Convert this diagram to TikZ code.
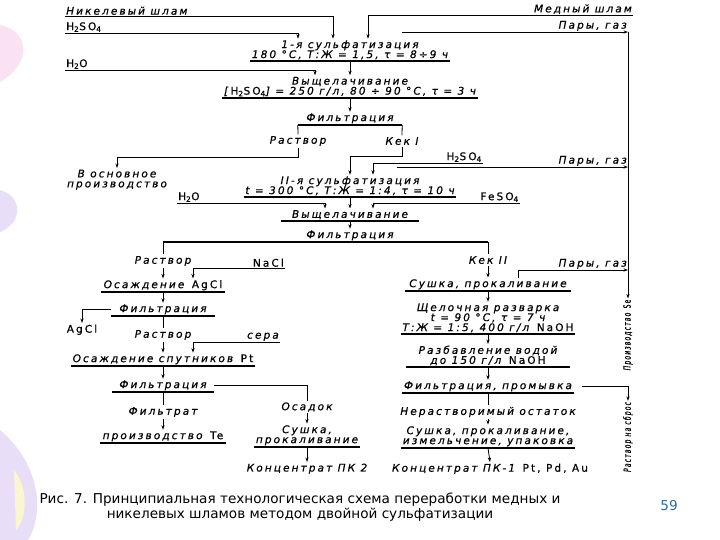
\documentclass[tikz,border=0pt]{standalone}
\usepackage{fontspec}
\setmainfont{DejaVu Sans}
\newfontfamily\scanfont[LetterSpace=20, FakeBold=0.6]{DejaVu Sans}
\usetikzlibrary{arrows.meta}

\definecolor{pagenum}{RGB}{46,110,158}
\definecolor{decopink}{RGB}{250,226,242}
\definecolor{decolilac}{RGB}{232,222,248}
\definecolor{decoyellow}{RGB}{250,246,210}

\tikzset{
  arr/.style={-{Stealth[length=4.5pt,width=3.2pt]}, line width=0.8pt},
  link/.style={line width=0.8pt},
  under/.style={line width=1.3pt},
  lbl/.style={inner sep=1.5pt, align=center, font=\scanfont\itshape\fontsize{10.5}{10}\selectfont},
  feed/.style={lbl, inner sep=1pt},
  vlbl/.style={inner sep=1pt, rotate=90, font=\scanfont\itshape\fontsize{10}{10}\selectfont},
  stage/.style={lbl, append after command={(\tikzlastnode.south west) edge[draw, under] (\tikzlastnode.south east)}},
}
\newcommand{\narrow}[1]{\scalebox{0.6}[1]{#1}}

\begin{document}
\begin{tikzpicture}[x=1pt, y=-1pt]
    \useasboundingbox[fill=white] (0,0) rectangle (720,540);
    % template decoration
    \fill[decopink] (0,25) .. controls (28,30) and (34,62) .. (0,82) -- cycle;
    \fill[decolilac] (0,190) .. controls (22,196) and (24,222) .. (0,232) -- cycle;
    \fill[decolilac] (0,430) .. controls (38,462) and (46,510) .. (28,540) -- (0,540) -- cycle;
    \fill[decoyellow] (14,470) .. controls (30,490) and (26,520) .. (16,530) -- cycle;

    % feeds of the first stage
    \node[feed, anchor=south west] (nikel) at (65,16) {Никелевый шлам};
    \node[feed, anchor=south west] (acid1) at (65,33) {\textup{H\textsubscript{2}SO\textsubscript{4}}};
    \node[feed, anchor=south east] (copper) at (633,15) {Медный шлам};
    \node[feed, anchor=south east] (gas1) at (628,32) {Пары, газ};
    \node[feed, anchor=south west] (water1) at (65,70) {\textup{H\textsubscript{2}O}};
    \coordinate (gas1start) at (402,32);

    % first sulfatization
    \node[stage, anchor=south, minimum width=188pt] (sulf1) at (350,61) {1-я сульфатизация\\180 °C, Т:Ж = 1,5, τ = 8÷9 ч};
    \node[stage, anchor=south, minimum width=248pt] (leach1) at (350,98) {Выщелачивание\\{[}\textup{H\textsubscript{2}SO\textsubscript{4}}{]} = 250 г/л, 80 ÷ 90 °C, τ = 3 ч};
    \node[stage, anchor=south, minimum width=104pt] (filt1) at (350,125) {Фильтрация};
    \node[lbl] (sol1) at (298,141) {Раствор};
    \node[lbl] (cake1) at (402,141) {Кек I};
    \node[lbl, anchor=north] (mainprod) at (117,168) {В основное\\производство};

    % second sulfatization
    \node[feed, anchor=south east] (acid2) at (483,163) {\textup{H\textsubscript{2}SO\textsubscript{4}}};
    \node[feed, anchor=south east] (gas2) at (628,167) {Пары, газ};
    \coordinate (gas2start) at (397,167);
    \node[stage, anchor=south, minimum width=196pt] (sulf2) at (350,197) {II-я сульфатизация\\t = 300 °C, Т:Ж = 1:4, τ = 10 ч};
    \node[feed, anchor=south west] (water2) at (177,203) {\textup{H\textsubscript{2}O}};
    \node[feed, anchor=south east] (feso4) at (520,203) {\textup{FeSO\textsubscript{4}}};
    \node[stage, anchor=south, minimum width=138pt] (leach2) at (350,221) {Выщелачивание};
    \node[lbl, anchor=south] (filt2) at (350,242) {Фильтрация};

    % solution branch
    \node[lbl] (sol2) at (163,261) {Раствор};
    \node[feed, anchor=south east] (nacl) at (285,268) {\textup{NaCl}};
    \node[stage, anchor=south, minimum width=124pt] (precag) at (163,292) {Осаждение \textup{AgCl}};
    \node[stage, anchor=south, minimum width=104pt] (filt3) at (163,316) {Фильтрация};
    \node[lbl, anchor=north] (agcl) at (82,323) {\textup{AgCl}};
    \node[lbl] (sol3) at (163,335) {Раствор};
    \node[feed, anchor=south east] (sulfur) at (280,342) {сера};
    \node[stage, anchor=south, minimum width=184pt] (precpt) at (163,366) {Осаждение спутников \textup{Pt}};
    \node[stage, anchor=south, minimum width=102pt] (filt4) at (163,392) {Фильтрация};
    \node[lbl] (filtrate) at (163,412) {Фильтрат};
    \node[stage, anchor=south, minimum width=126pt] (teprod) at (163,443) {производство \textup{Te}};
    \node[lbl] (resid1) at (307,407) {Осадок};
    \node[stage, anchor=south, minimum width=100pt] (dry1) at (307,447) {Сушка,\\прокаливание};
    \node[lbl, anchor=north] (pk2) at (307,462) {Концентрат ПК 2};

    % cake branch
    \node[lbl] (cake2) at (488,260) {Кек II};
    \node[feed, anchor=south east] (gas3) at (628,270) {Пары, газ};
    \node[stage, anchor=south, minimum width=166pt] (dry2) at (488,291) {Сушка, прокаливание};
    \node[stage, anchor=south, minimum width=166pt] (alkali) at (488,334) {Щелочная разварка\\t = 90 °C, τ = 7 ч\\Т:Ж = 1:5, 400 г/л \textup{NaOH}};
    \node[stage, anchor=south, minimum width=164pt] (dilute) at (488,367) {Разбавление водой\\до 150 г/л \textup{NaOH}};
    \node[stage, anchor=south, minimum width=166pt] (filt5) at (488,393) {Фильтрация, промывка};
    \node[lbl] (insol) at (488,412) {Нерастворимый остаток};
    \node[stage, anchor=south, minimum width=166pt] (dry3) at (488,448) {Сушка, прокаливание,\\измельчение, упаковка};
    \node[lbl, anchor=north] (pk1) at (490,462) {Концентрат ПК-1 \textup{Pt, Pd, Au}};
    \node[vlbl] (seprod) at (628,335) {\narrow{Производство \textup{Se}}};
    \node[vlbl] (waste) at (628,437) {\narrow{Раствор на сброс}};

    % connectors, first stage
    \draw[arr] (nikel.south west) -| ([xshift=-17pt]sulf1.north);
    \draw[arr] (acid1.south west) -| ([xshift=-52pt]sulf1.north);
    \draw[arr] (copper.south east) -| ([xshift=18pt]sulf1.north);
    \draw[arr] (gas1start) -- (gas1.south east);
    \draw[arr] (gas1.south east) -- (seprod.east);
    \draw[arr] (water1.south west) -| ([xshift=-35pt]leach1.north);
    \draw[arr] (sulf1.south) -- (leach1.north);
    \draw[arr] (leach1.south) -- (filt1.north);
    \draw[link] (filt1.south west) -- (sol1.north);
    \draw[arr] (sol1.south) -- ++(0,10) -| (mainprod.north);
    \draw[link] (filt1.south east) -- (cake1.north);
    \draw[arr] (cake1.south) -- ++(0,10) -| (sulf2.north);

    % connectors, second stage
    \draw[arr] (acid2.south east) -| ([xshift=23pt]sulf2.north);
    \draw[arr] (gas2start) -- (gas2.south east);
    \draw[arr] (water2.south west) -| ([xshift=-25pt]leach2.north);
    \draw[arr] (feso4.south east) -| ([xshift=23pt]leach2.north);
    \draw[arr] (sulf2.south) -- (leach2.north);
    \draw[arr] (leach2.south) -- (filt2.north);
    \draw[under] (sol2.north |- filt2.south) -- (cake2.north |- filt2.south);
    \draw[link] (sol2.north |- filt2.south) -- (sol2.north);
    \draw[link] (cake2.north |- filt2.south) -- (cake2.north);

    % connectors, solution branch
    \draw[arr] (sol2.south) -- (precag.north);
    \draw[arr] (nacl.south east) -| ([xshift=30pt]precag.north);
    \draw[arr] (precag.south) -- (filt3.north);
    \draw[arr] (filt3.west) -| (agcl.north);
    \draw[link] (filt3.south) -- (sol3.north);
    \draw[arr] (sol3.south) -- (precpt.north);
    \draw[arr] (sulfur.south east) -| ([xshift=30pt]precpt.north);
    \draw[arr] (precpt.south) -- (filt4.north);
    \draw[link] (filt4.south) -- (filtrate.north);
    \draw[arr] (filtrate.south) -- (teprod.north);
    \draw[link] (filt4.east) -| (resid1.north);
    \draw[arr] (resid1.south) -- (dry1.north);
    \draw[arr] (dry1.south) -- (pk2.north);

    % connectors, cake branch
    \draw[arr] (cake2.south) -- (dry2.north);
    \draw[arr] ([xshift=30pt]dry2.north) |- (gas3.south east);
    \draw[arr] (dry2.south) -- (alkali.north);
    \draw[arr] (alkali.south) -- (dilute.north);
    \draw[arr] (dilute.south) -- (filt5.north);
    \draw[arr, shorten <=8pt] (filt5.east) -| (waste.east);
    \draw[link] (filt5.south) -- (insol.north);
    \draw[arr] (insol.south) -- (dry3.north);
    \draw[arr] (dry3.south) -- (pk1.north);

    % caption
    \node[align=center, font=\fontsize{13.6}{15}\selectfont] (caption) at (300,507) {Рис. 7. Принципиальная технологическая схема переработки медных и\\никелевых шламов методом двойной сульфатизации};
    \node[font=\fontsize{13.6}{15}\selectfont, text=pagenum] (pageno) at (669,506) {59};
\end{tikzpicture}
\end{document}
